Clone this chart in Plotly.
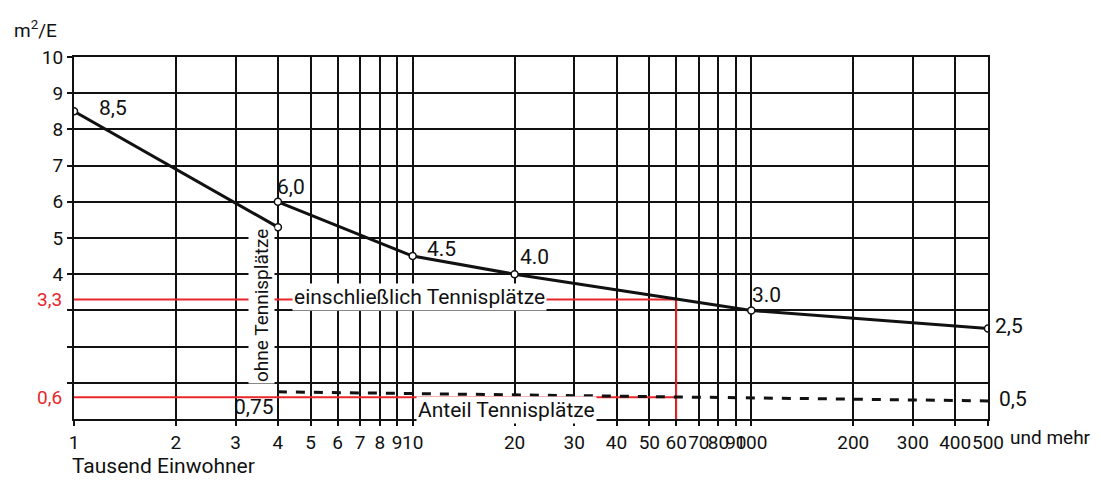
import numpy as np
import plotly.graph_objects as go

# Einwohner (Tausend) and area per inhabitant (m²/E)
x_ohne = [1, 4]
y_ohne = [8.5, 5.3]

x_einschl = [4, 10, 20, 100, 500]
y_einschl = [6.0, 4.5, 4.0, 3.0, 2.5]

x_anteil = [4, 500]
y_anteil = [0.75, 0.5]

# reading example at 60 000 inhabitants
x_beispiel = 60
y_beispiel_gesamt = 3.3
y_beispiel_anteil = 0.6

x_ticks = [1, 2, 3, 4, 5, 6, 7, 8, 9, 10, 20, 30, 40, 50, 60, 70, 80, 90, 100, 200, 300, 400, 500]
x_ticktext = [str(v) for v in x_ticks]
y_ticks = [4, 5, 6, 7, 8, 9, 10]
y_ticktext = [str(v) for v in y_ticks]
y_grid_unlabelled = [1, 2, 3]

FONT = "Roboto, Lato, sans-serif"
RED = "#e8262b"
BLACK = "#111111"
TXT = 21
TICK = 19

W, H = 1101, 490
L, R, T, B = 74, 113, 57, 71


def px(xp):
    return (xp - L) / (W - L - R)


def py(yp):
    return (H - B - yp) / (H - T - B)


fig = go.Figure()

# red reading guide
fig.add_trace(go.Scatter(
    x=[x_ticks[0], x_beispiel, x_beispiel, None, x_ticks[0], x_beispiel],
    y=[y_beispiel_gesamt, y_beispiel_gesamt, 0, None, y_beispiel_anteil, y_beispiel_anteil],
    mode="lines", line=dict(color=RED, width=2), hoverinfo="skip", showlegend=False,
))

# share of tennis courts (dashed)
fig.add_trace(go.Scatter(
    x=x_anteil, y=y_anteil, mode="lines",
    line=dict(color=BLACK, width=3, dash="dash"), showlegend=False,
))

# without tennis courts
fig.add_trace(go.Scatter(
    x=x_ohne, y=y_ohne, mode="lines+markers",
    line=dict(color=BLACK, width=3),
    marker=dict(symbol="circle", size=7, color="white", line=dict(color=BLACK, width=1.5)),
    showlegend=False,
))

# including tennis courts
fig.add_trace(go.Scatter(
    x=x_einschl, y=y_einschl, mode="lines+markers",
    line=dict(color=BLACK, width=3),
    marker=dict(symbol="circle", size=7, color="white", line=dict(color=BLACK, width=1.5)),
    showlegend=False,
))

ann = []


def label(text, x, y, xs=0, ys=0, xanchor="center", color=BLACK, size=TXT):
    ann.append(dict(text=text, x=np.log10(x), y=y, xref="x", yref="y",
                    xshift=xs, yshift=ys, xanchor=xanchor, yanchor="middle", showarrow=False,
                    font=dict(family=FONT, size=size, color=color)))


def paper_text(text, xp, yp, xanchor="center", color=BLACK, size=TXT, **kw):
    ann.append(dict(text=text, x=px(xp), y=py(yp), xref="paper", yref="paper",
                    xanchor=xanchor, yanchor="middle", showarrow=False,
                    font=dict(family=FONT, size=size, color=color), **kw))


label("8,5", x_ohne[0], y_ohne[0], xs=39, ys=3)
label("6,0", x_einschl[0], y_einschl[0], xs=13, ys=15)
label("4.5", x_einschl[1], y_einschl[1], xs=29, ys=7)
label("4.0", x_einschl[2], y_einschl[2], xs=20, ys=17)
label("3.0", x_einschl[3], y_einschl[3], xs=15, ys=15)
label("2,5", x_einschl[4], y_einschl[4], xs=5, ys=3, xanchor="left")
label("0,5", x_anteil[1], y_anteil[1], xs=9, ys=2, xanchor="left")
label("0,75", x_anteil[0], y_anteil[0], xs=-2, ys=-15, xanchor="right")

# red value labels on the y axis
for v, txt in [(y_beispiel_gesamt, "3,3"), (y_beispiel_anteil, "0,6")]:
    ann.append(dict(text=txt, x=0, y=v, xref="paper", yref="y", xanchor="right", yanchor="middle",
                    xshift=-10, showarrow=False, font=dict(family=FONT, size=TICK, color=RED)))

# curve names with white backing
paper_text("ohne Tennisplätze", 261, 306, textangle=-90, bgcolor="white", size=19)
paper_text("einschließlich Tennisplätze", 419, 297, bgcolor="white")
paper_text("Anteil Tennisplätze", 506, 410, bgcolor="white")

# axis titles
paper_text("m<sup>2</sup>/E", 12, 30, xanchor="left", size=TICK)
paper_text("Tausend Einwohner", 70, 466, xanchor="left")
paper_text("und mehr", 1008, 437, xanchor="left", size=TICK)

fig.update_layout(
    width=W, height=H,
    margin=dict(l=L, r=R, t=T, b=B),
    paper_bgcolor="white", plot_bgcolor="white",
    font=dict(family=FONT, size=TICK, color=BLACK),
    annotations=ann,
    showlegend=False,
)

fig.update_xaxes(
    type="log", range=[0, np.log10(500)],
    tickmode="array", tickvals=x_ticks, ticktext=x_ticktext, tickangle=0,
    showgrid=True, gridcolor=BLACK, gridwidth=2,
    showline=True, linecolor=BLACK, linewidth=2, mirror=True,
    ticks="outside", ticklen=5, tickwidth=2, tickcolor=BLACK,
    tickfont=dict(family=FONT, size=TICK, color=BLACK), zeroline=False,
)
fig.update_yaxes(
    range=[0, 10],
    tickmode="array", tickvals=y_ticks, ticktext=y_ticktext,
    showgrid=True, gridcolor=BLACK, gridwidth=2,
    showline=True, linecolor=BLACK, linewidth=2, mirror=True,
    ticks="outside", ticklen=5, tickwidth=2, tickcolor=BLACK,
    minor=dict(tickmode="array", tickvals=y_grid_unlabelled, showgrid=True,
               gridcolor=BLACK, gridwidth=2, ticks="outside", ticklen=5,
               tickwidth=2, tickcolor=BLACK),
    tickfont=dict(family=FONT, size=TICK, color=BLACK), zeroline=False,
)

fig.write_html("out.html")
